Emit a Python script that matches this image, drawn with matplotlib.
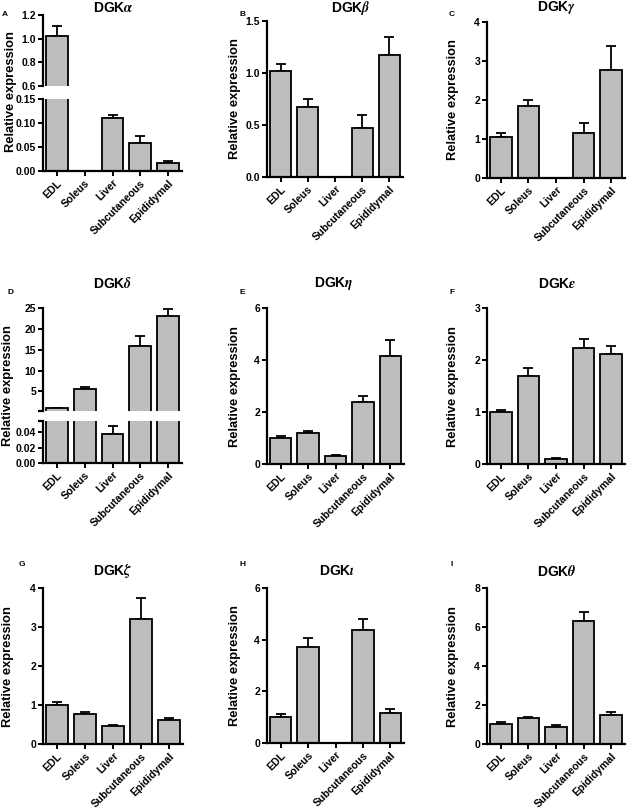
import matplotlib
matplotlib.use("Agg")
import matplotlib.pyplot as plt
import numpy as np

plt.rcParams['font.family'] = ['Liberation Sans', 'DejaVu Sans']
plt.rcParams['font.weight'] = 'bold'
plt.rcParams['mathtext.fontset'] = 'stix'

W, H = 629, 810

tissues = ["EDL", "Soleus", "Liver", "Subcutaneous", "Epididymal"]

# mean and SEM per isoform
alpha_mean = [1.02, 0.0, 0.110, 0.058, 0.017]
alpha_err = [0.085, 0.0, 0.006, 0.015, 0.003]
beta_mean = [1.02, 0.67, 0.0, 0.47, 1.17]
beta_err = [0.07, 0.08, 0.0, 0.13, 0.18]
gamma_mean = [1.05, 1.85, 0.0, 1.15, 2.78]
gamma_err = [0.11, 0.15, 0.0, 0.25, 0.60]
delta_mean = [1.0, 5.6, 0.038, 16.0, 23.0]
delta_err = [0.05, 0.5, 0.010, 2.3, 1.8]
eta_mean = [1.0, 1.19, 0.29, 2.37, 4.17]
eta_err = [0.06, 0.09, 0.04, 0.23, 0.61]
eps_mean = [1.0, 1.70, 0.10, 2.24, 2.12]
eps_err = [0.045, 0.15, 0.01, 0.16, 0.15]
zeta_mean = [1.01, 0.78, 0.47, 3.21, 0.615]
zeta_err = [0.06, 0.04, 0.03, 0.53, 0.055]
iota_mean = [1.02, 3.70, 0.0, 4.39, 1.15]
iota_err = [0.11, 0.36, 0.0, 0.41, 0.17]
theta_mean = [1.03, 1.32, 0.85, 6.29, 1.47]
theta_err = [0.08, 0.05, 0.11, 0.46, 0.15]

bar_color = '#bdbdbd'
x = np.arange(len(tissues))

fig = plt.figure(figsize=(W / 100, H / 100), dpi=100)


def rect(x0, y0, x1, y1):
    return [x0 / W, 1 - y1 / H, (x1 - x0) / W, (y1 - y0) / H]


def draw_bars(ax, mean, err, floor=0.0):
    ax.bar(x, mean, width=0.78, color=bar_color, edgecolor='black', linewidth=1.3, zorder=2)
    m = np.array(mean)
    e = np.array(err)
    keep = m > floor
    ax.errorbar(x[keep], m[keep], yerr=[np.zeros(keep.sum()), e[keep]], fmt='none',
                ecolor='black', elinewidth=1.3, capsize=3.6, capthick=1.3, zorder=1)
    ax.set_xlim(-0.5, 4.5)
    for s in ['top', 'right']:
        ax.spines[s].set_visible(False)
    for s in ['left', 'bottom']:
        ax.spines[s].set_linewidth(1.6)
    ax.tick_params(axis='both', direction='out', length=3.5, width=1.4, labelsize=7.5, pad=1.5)


def finish_x(ax):
    ax.set_xticks(x)
    ax.set_xticklabels(tissues, rotation=45, ha='right', rotation_mode='anchor', fontsize=7.6)


def no_x(ax):
    ax.spines['bottom'].set_visible(False)
    ax.set_xticks([])


def simple(box, mean, err, ylim, ticks, fmt):
    ax = fig.add_axes(rect(*box))
    draw_bars(ax, mean, err)
    ax.set_ylim(*ylim)
    ax.set_yticks(ticks)
    ax.set_yticklabels([fmt.format(t) for t in ticks])
    finish_x(ax)
    return ax


# panel A (broken axis)
axa1 = fig.add_axes(rect(43, 15, 182, 86))
draw_bars(axa1, alpha_mean, alpha_err, floor=0.6)
axa1.set_ylim(0.6, 1.2)
axa1.set_yticks([0.6, 0.8, 1.0, 1.2])
axa1.set_yticklabels(['0.6', '0.8', '1.0', '1.2'])
no_x(axa1)
axa2 = fig.add_axes(rect(43, 99, 182, 171))
draw_bars(axa2, alpha_mean, alpha_err)
axa2.set_ylim(0, 0.15)
axa2.set_yticks([0, 0.05, 0.10, 0.15])
axa2.set_yticklabels(['0.00', '0.05', '0.10', '0.15'])
finish_x(axa2)

simple((267, 21, 403, 177), beta_mean, beta_err, (0, 1.5), [0, 0.5, 1.0, 1.5], '{:.1f}')
simple((487, 22, 625, 178), gamma_mean, gamma_err, (0, 4), [0, 1, 2, 3, 4], '{:.0f}')

# panel D (broken axis)
axd1 = fig.add_axes(rect(43, 308, 182, 411))
draw_bars(axd1, delta_mean, delta_err, floor=0.3)
axd1.set_ylim(0.3, 25)
axd1.set_yticks([5, 10, 15, 20, 25])
axd1.set_yticklabels(['5', '10', '15', '20', '25'])
axd1.set_yticks([0.3], minor=True)
axd1.tick_params(axis='y', which='minor', length=3.5, width=1.6)
no_x(axd1)
axd2 = fig.add_axes(rect(43, 421, 182, 463))
draw_bars(axd2, delta_mean, delta_err)
axd2.set_ylim(0, 0.055)
axd2.set_yticks([0, 0.02, 0.04])
axd2.set_yticklabels(['0.00', '0.02', '0.04'])
axd2.set_yticks([0.055], minor=True)
axd2.tick_params(axis='y', which='minor', length=3.5, width=1.6)
finish_x(axd2)

simple((267, 308, 404, 464), eta_mean, eta_err, (0, 6), [0, 2, 4, 6], '{:.0f}')
simple((487, 308, 625, 464), eps_mean, eps_err, (0, 3), [0, 1, 2, 3], '{:.0f}')
simple((43, 588, 183, 744), zeta_mean, zeta_err, (0, 4), [0, 1, 2, 3, 4], '{:.0f}')
simple((267, 588, 404, 743), iota_mean, iota_err, (0, 6), [0, 2, 4, 6], '{:.0f}')
simple((487, 588, 625, 744), theta_mean, theta_err, (0, 8), [0, 2, 4, 6, 8], '{:.0f}')

# titles, panel letters, y labels
titles = [r'DGK$\alpha$', r'DGK$\beta$', r'DGK$\gamma$', r'DGK$\delta$', r'DGK$\eta$',
          r'DGK$\varepsilon$', r'DGK$\zeta$', r'DGK$\iota$', r'DGK$\theta$']
title_pos = [(113, 8), (351, 8), (557, 8), (113, 284), (334, 284), (557, 284),
             (113, 571), (337, 571), (557, 571)]
letters = list("ABCDEFGHI")
letter_pos = [(5, 15), (242, 15), (452, 15), (10, 292), (242, 292), (452, 292),
              (22, 565), (242, 565), (452, 565)]
ylab_pos = [(11, 92), (235, 99), (453, 100), (8, 386), (235, 387), (453, 387),
            (8, 667), (235, 666), (453, 667)]

for t, (px, py) in zip(titles, title_pos):
    fig.text(px / W, 1 - py / H, t, fontsize=10, fontweight='bold', ha='center', va='center')
for l, (px, py) in zip(letters, letter_pos):
    fig.text(px / W, 1 - py / H, l, fontsize=6, fontweight='bold', ha='center', va='center')
for (px, py) in ylab_pos:
    fig.text(px / W, 1 - py / H, 'Relative expression', fontsize=9.3, fontweight='bold',
             rotation=90, ha='center', va='center')

fig.savefig('out.png', dpi=100)
